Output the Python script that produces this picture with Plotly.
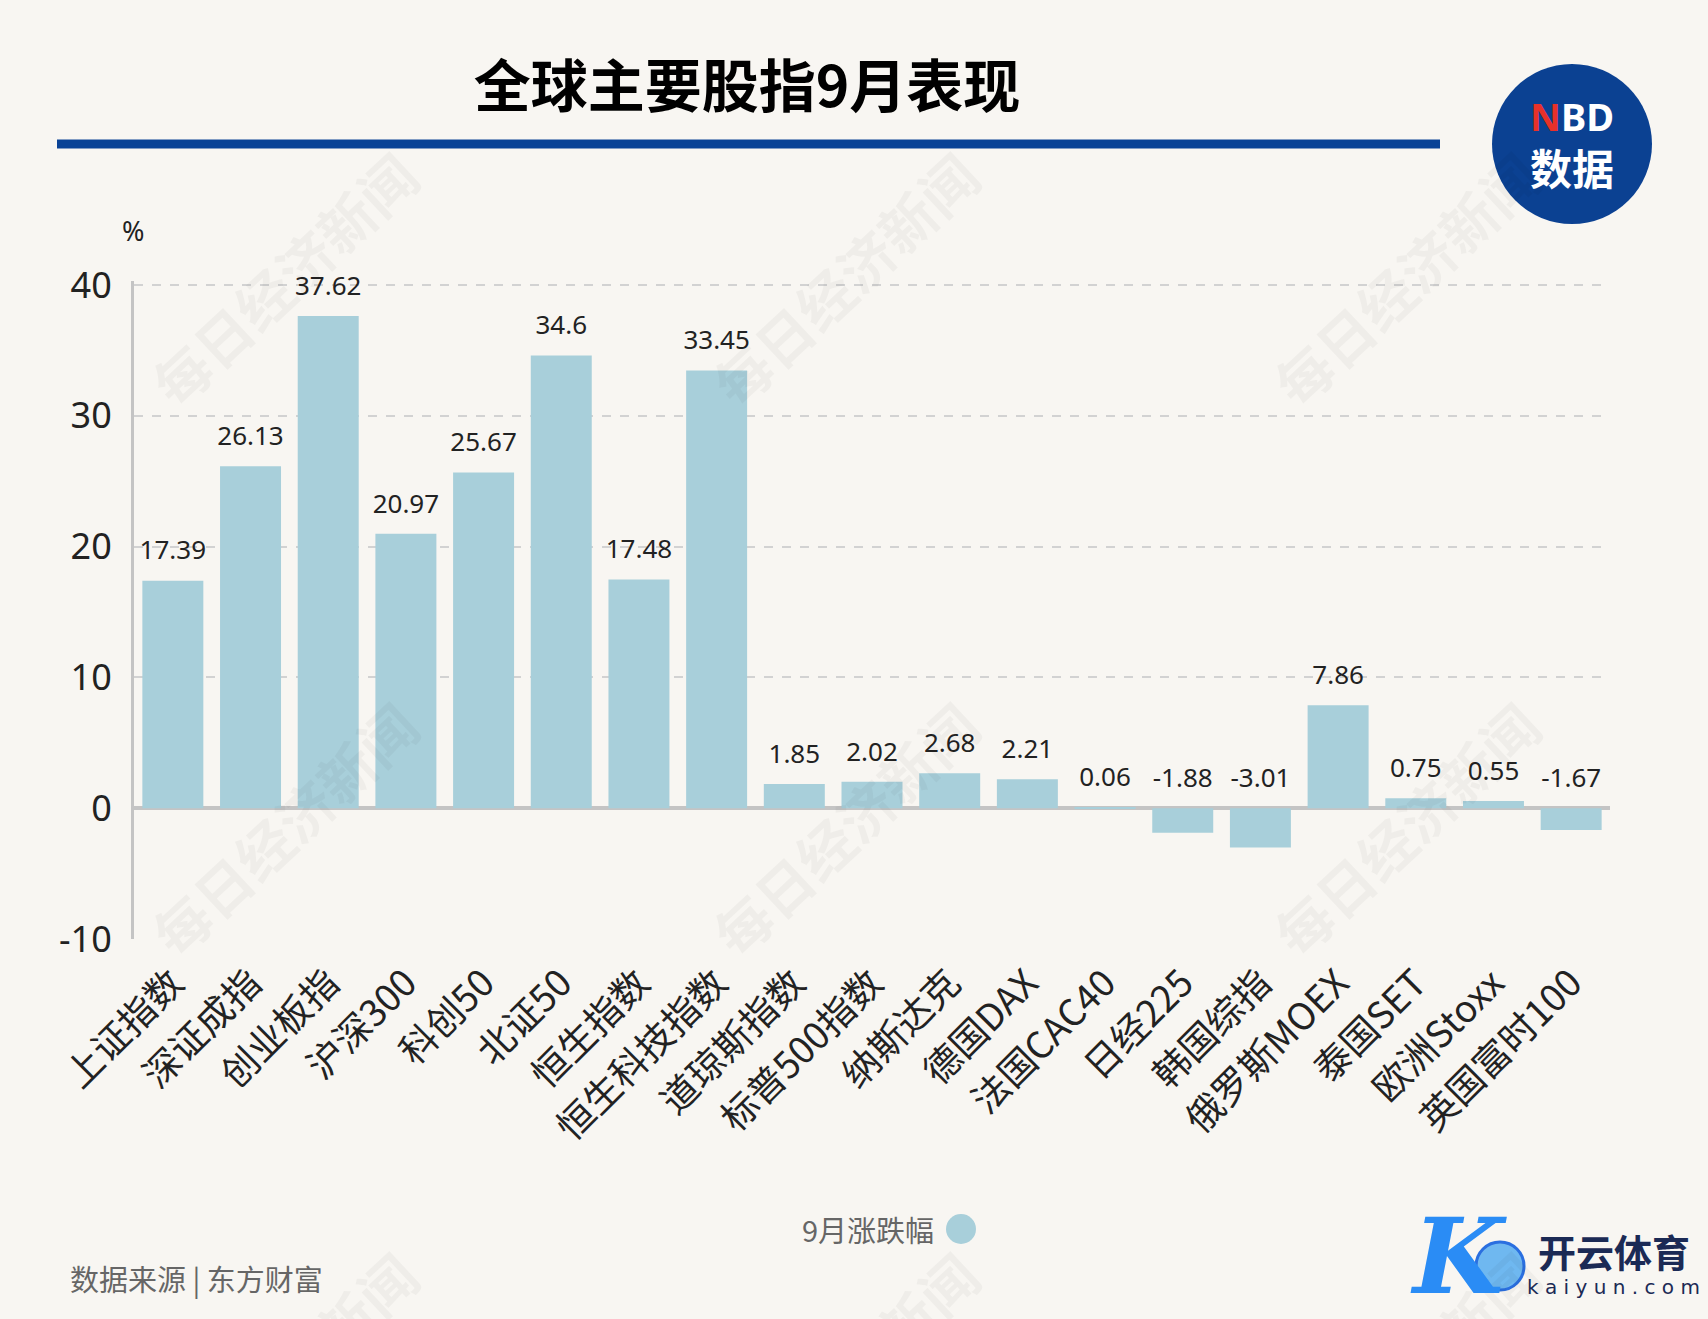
import numpy as np
import plotly.graph_objects as go

# data
categories = ["上证指数", "深证成指", "创业板指", "沪深300", "科创50", "北证50",
              "恒生指数", "恒生科技指数", "道琼斯指数", "标普500指数", "纳斯达克",
              "德国DAX", "法国CAC40", "日经225", "韩国综指", "俄罗斯MOEX",
              "泰国SET", "欧洲Stoxx", "英国富时100"]
changes = [17.39, 26.13, 37.62, 20.97, 25.67, 34.6, 17.48, 33.45, 1.85, 2.02,
           2.68, 2.21, 0.06, -1.88, -3.01, 7.86, 0.75, 0.55, -1.67]
labels = ["17.39", "26.13", "37.62", "20.97", "25.67", "34.6", "17.48", "33.45",
          "1.85", "2.02", "2.68", "2.21", "0.06", "-1.88", "-3.01", "7.86",
          "0.75", "0.55", "-1.67"]
y_ticks = [-10, 0, 10, 20, 30, 40]
y_ticktext = ["-10", "0", "10", "20", "30", "40"]

W, H = 1708, 1319
L, R, T, B = 134, 98, 281, 380
FONT = "Noto Sans, Noto Sans CJK SC, sans-serif"
BG = "#f8f6f2"
BAR = "#a8cfda"


# pixel -> paper helpers for the decorations
def px(x):
    return (x - L) / (W - L - R)


def py(y):
    return (H - B - y) / (H - T - B)


def note(text, x, y, size, color, family=FONT, xanchor="center", angle=0):
    return dict(text=text, x=px(x), y=py(y), xref="paper", yref="paper",
                xanchor=xanchor, yanchor="middle", showarrow=False, textangle=angle,
                font=dict(size=size, color=color, family=family))


fig = go.Figure()
fig.add_trace(go.Bar(
    x=categories, y=changes, name="9月涨跌幅",
    marker=dict(color=BAR, line=dict(width=0)),
    showlegend=False,
))
# value labels sit above the bar, or above zero for the negative ones
fig.add_trace(go.Scatter(
    x=categories, y=np.maximum(changes, 0), text=labels,
    mode="markers+text", textposition="top center",
    marker=dict(size=22, opacity=0), cliponaxis=False,
    textfont=dict(size=26, color="#222222", family=FONT),
    showlegend=False, hoverinfo="skip",
))

fig.update_layout(
    width=W, height=H,
    margin=dict(l=L, r=R, t=T, b=B),
    paper_bgcolor=BG, plot_bgcolor=BG,
    font=dict(family=FONT, color="#222222"),
    bargap=0.215,
    showlegend=False,
    title=dict(text="<b>全球主要股指9月表现</b>", x=747 / W, xanchor="center",
               xref="container", y=1 - 87 / H, yanchor="middle", yref="container",
               font=dict(size=57, color="#000000", family="Noto Sans CJK SC")),
)
fig.update_yaxes(
    range=[-10, 40.3], tickvals=y_ticks, ticktext=y_ticktext,
    tickfont=dict(size=36, color="#222222"),
    showgrid=True, gridcolor="#d2d2d2", griddash="dash", gridwidth=2,
    zeroline=True, zerolinecolor="#c4c4c4", zerolinewidth=4,
    showline=True, linecolor="#c4c4c4", linewidth=3,
    ticks="", ticklabelstandoff=12,
)
fig.update_xaxes(
    range=[-0.5, len(categories) - 0.5],
    tickangle=-45, tickfont=dict(size=37, color="#222222", family="Noto Sans CJK SC"),
    showline=False, showgrid=False, ticks="", ticklabelstandoff=14,
)

anns = []
shapes = []

# faint diagonal watermarks (bottom row runs off the page, as in the original)
for wx in [283, 844, 1405]:
    for wy in [278, 828, 1378]:
        anns.append(note("<b>每日经济新闻</b>", wx, wy, 56, "rgba(0,0,0,0.035)",
                         "Noto Sans CJK SC", angle=-43))

# blue rule under the title
shapes.append(dict(type="line", xref="paper", yref="paper",
                   x0=px(57), x1=px(1440), y0=py(144), y1=py(144),
                   line=dict(color="#0a4396", width=9)))

# NBD badge
shapes.append(dict(type="circle", xref="paper", yref="paper",
                   x0=px(1572 - 80), x1=px(1572 + 80), y0=py(144 + 80), y1=py(144 - 80),
                   fillcolor="#0b4192", line=dict(width=0)))
anns.append(note("<b><span style='color:#e8312a'>N</span>BD</b>", 1572, 116, 38,
                 "#ffffff", "Noto Sans"))
anns.append(note("<b>数据</b>", 1572, 166, 42, "#ffffff", "Noto Sans CJK SC"))

# unit label
anns.append(note("%", 133, 231, 27, "#222222"))

# legend drawn by hand: text first, dot on the right
anns.append(note("9月涨跌幅", 936, 1229, 29, "#666666", "Noto Sans CJK SC", xanchor="right"))
shapes.append(dict(type="circle", xref="paper", yref="paper",
                   x0=px(961 - 15), x1=px(961 + 15), y0=py(1229 + 15), y1=py(1229 - 15),
                   fillcolor=BAR, line=dict(width=0)))

# source
anns.append(note("数据来源 | 东方财富", 68, 1278, 29, "#666666", "Noto Sans CJK SC", xanchor="left"))

# bottom-right logo
anns.append(note("<b><i>K</i></b>", 1458, 1256, 104, "#2a8cf5", "DejaVu Serif"))
shapes.append(dict(type="circle", xref="paper", yref="paper",
                   x0=px(1500 - 24), x1=px(1500 + 24), y0=py(1266 + 24), y1=py(1266 - 24),
                   fillcolor="#6fb8f0", line=dict(color="#2a6fe0", width=3)))
anns.append(note("<b>开云体育</b>", 1614, 1250, 38, "#1b2a55", "Noto Sans CJK SC"))
anns.append(note("k a i y u n . c o m", 1614, 1287, 20, "#1b2a55", "DejaVu Sans"))

fig.update_layout(annotations=anns, shapes=shapes)

fig.write_html("out.html", config={"displayModeBar": False},
               post_script="document.body.style.margin='0';"
                           "document.body.style.background='#f8f6f2';")
